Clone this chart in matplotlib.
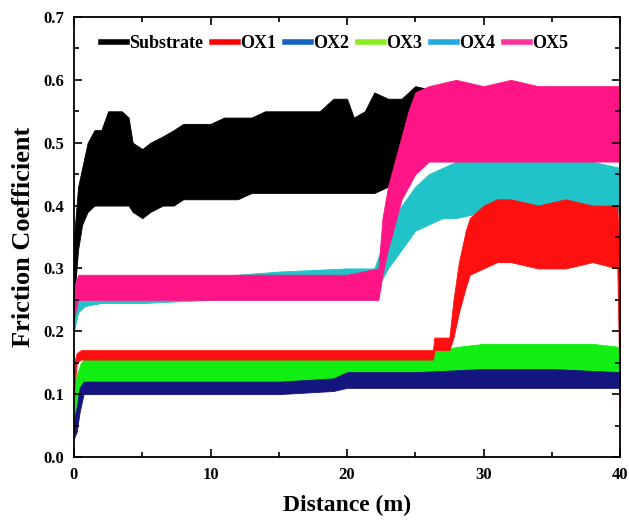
import numpy as np
import matplotlib
matplotlib.use('Agg')
import matplotlib.pyplot as plt
from matplotlib.lines import Line2D
from matplotlib.ticker import MultipleLocator

plt.rcParams['font.family'] = ['Liberation Serif', 'DejaVu Serif']
plt.rcParams['font.weight'] = 'bold'

# envelopes (distance in m, lower / upper band of friction coefficient)
sub_x = [0, 0.3, 0.6, 1, 1.5, 2, 2.5, 3, 3.5, 4, 4.3, 5, 5.6, 6.5, 7.3, 8, 9, 10, 11, 12, 13, 14, 15, 16, 17, 18, 19, 20, 20.5, 21.3, 22, 23, 24, 25, 27, 30, 35, 40]
sub_lo = [0.25, 0.33, 0.37, 0.39, 0.40, 0.40, 0.40, 0.40, 0.40, 0.40, 0.39, 0.38, 0.39, 0.40, 0.40, 0.41, 0.41, 0.41, 0.41, 0.41, 0.42, 0.42, 0.42, 0.42, 0.42, 0.42, 0.42, 0.42, 0.42, 0.42, 0.42, 0.43, 0.45, 0.48, 0.49, 0.49, 0.49, 0.49]
sub_hi = [0.35, 0.43, 0.46, 0.50, 0.52, 0.52, 0.55, 0.55, 0.55, 0.54, 0.50, 0.49, 0.50, 0.51, 0.52, 0.53, 0.53, 0.53, 0.54, 0.54, 0.54, 0.55, 0.55, 0.55, 0.55, 0.55, 0.57, 0.57, 0.54, 0.55, 0.58, 0.57, 0.57, 0.59, 0.58, 0.58, 0.58, 0.58]

ox1_x = [0, 0.2, 0.5, 2, 5, 10, 15, 20, 25, 26.3, 26.4, 27.5, 27.8, 28.2, 28.7, 29, 30, 31, 32, 34, 36, 38, 39.8, 40]
ox1_lo = [0.10, 0.15, 0.155, 0.155, 0.155, 0.155, 0.155, 0.155, 0.155, 0.155, 0.17, 0.17, 0.19, 0.23, 0.27, 0.29, 0.30, 0.31, 0.31, 0.30, 0.30, 0.31, 0.30, 0.08]
ox1_hi = [0.15, 0.165, 0.17, 0.17, 0.17, 0.17, 0.17, 0.17, 0.17, 0.17, 0.19, 0.19, 0.25, 0.31, 0.36, 0.38, 0.40, 0.41, 0.41, 0.40, 0.41, 0.40, 0.40, 0.30]

ox2_x = [0, 0.2, 0.4, 0.7, 1, 5, 10, 15, 19, 20, 25, 30, 35, 40]
ox2_lo = [0.03, 0.04, 0.07, 0.10, 0.10, 0.10, 0.10, 0.10, 0.105, 0.11, 0.11, 0.11, 0.11, 0.11]
ox2_hi = [0.06, 0.08, 0.11, 0.12, 0.12, 0.12, 0.12, 0.12, 0.125, 0.135, 0.135, 0.14, 0.14, 0.135]

ox3_x = [0, 0.2, 0.5, 1, 5, 10, 15, 20, 25, 27, 28, 30, 32, 35, 38, 40]
ox3_lo = [0.06, 0.09, 0.115, 0.12, 0.12, 0.12, 0.12, 0.12, 0.125, 0.13, 0.13, 0.13, 0.13, 0.13, 0.13, 0.13]
ox3_hi = [0.10, 0.13, 0.15, 0.16, 0.16, 0.16, 0.16, 0.165, 0.165, 0.17, 0.175, 0.18, 0.18, 0.18, 0.18, 0.175]

ox4_x = [0, 0.3, 0.8, 2, 5, 10, 12, 15, 20, 22, 22.5, 23, 24, 25, 26, 27, 28, 30, 32, 35, 38, 40]
ox4_lo = [0.20, 0.23, 0.24, 0.245, 0.245, 0.25, 0.255, 0.255, 0.26, 0.26, 0.28, 0.30, 0.33, 0.36, 0.37, 0.38, 0.38, 0.39, 0.39, 0.39, 0.39, 0.39]
ox4_hi = [0.25, 0.27, 0.28, 0.28, 0.28, 0.28, 0.29, 0.295, 0.30, 0.30, 0.33, 0.36, 0.40, 0.43, 0.45, 0.46, 0.47, 0.47, 0.47, 0.47, 0.47, 0.46]

ox5_x = [0, 0.3, 1, 5, 10, 15, 20, 22.3, 22.6, 23, 23.5, 24, 24.5, 25, 26, 28, 30, 32, 34, 36, 38, 40]
ox5_lo = [0.22, 0.25, 0.25, 0.25, 0.25, 0.25, 0.25, 0.25, 0.29, 0.33, 0.37, 0.41, 0.43, 0.45, 0.47, 0.47, 0.47, 0.47, 0.47, 0.47, 0.47, 0.47]
ox5_hi = [0.27, 0.29, 0.29, 0.29, 0.29, 0.29, 0.29, 0.30, 0.38, 0.43, 0.47, 0.51, 0.55, 0.58, 0.59, 0.60, 0.59, 0.60, 0.59, 0.59, 0.59, 0.59]

labels = ['Substrate', 'OX1', 'OX2', 'OX3', 'OX4', 'OX5']
legend_colors = ['#000000', '#ff0000', '#1565c0', '#88ee22', '#22aadd', '#ff3399']

fig = plt.figure(figsize=(6.29, 5.21), dpi=100)
ax = fig.add_axes([74 / 629, 1 - 457 / 521, 546 / 629, 440 / 521])

ax.fill_between(sub_x, sub_lo, sub_hi, color='#000000', lw=0.6)
ax.fill_between(ox4_x, ox4_lo, ox4_hi, color='#1fc3c8', lw=0.6)
ax.fill_between(ox5_x, ox5_lo, ox5_hi, color='#ff1585', lw=0.6)
ax.fill_between(ox3_x, ox3_lo, ox3_hi, color='#11ee11', lw=0.6)
ax.fill_between(ox1_x, ox1_lo, ox1_hi, color='#ff1010', lw=0.6)
ax.fill_between(ox2_x, ox2_lo, ox2_hi, color='#15157f', lw=0.6)

ax.set_xlim(0, 40)
ax.set_ylim(0, 0.7)
ax.xaxis.set_major_locator(MultipleLocator(10))
ax.xaxis.set_minor_locator(MultipleLocator(5))
ax.yaxis.set_major_locator(MultipleLocator(0.1))
ax.yaxis.set_minor_locator(MultipleLocator(0.05))
ax.tick_params(which='both', direction='in', top=True, right=True, width=1.2)
ax.tick_params(which='major', length=6, labelsize=12, pad=7)
ax.tick_params(which='minor', length=3.5)
ax.set_yticklabels([f'{v:.1f}' for v in ax.get_yticks()])
for s in ax.spines.values():
    s.set_linewidth(1.3)

ax.set_xlabel('Distance (m)', fontsize=17, fontweight='bold', labelpad=9)
ax.set_ylabel('Friction Coefficient', fontsize=19, fontweight='bold', labelpad=6)

handles = [Line2D([], [], color=c, lw=4) for c in legend_colors]
ax.legend(handles, labels, loc='center left', bbox_to_anchor=(0.05, 0.94), ncol=6,
          frameon=False, fontsize=13, handlelength=1.4, handletextpad=0.15,
          columnspacing=0.5, borderpad=0, borderaxespad=0)

fig.savefig('out.png', dpi=100)
